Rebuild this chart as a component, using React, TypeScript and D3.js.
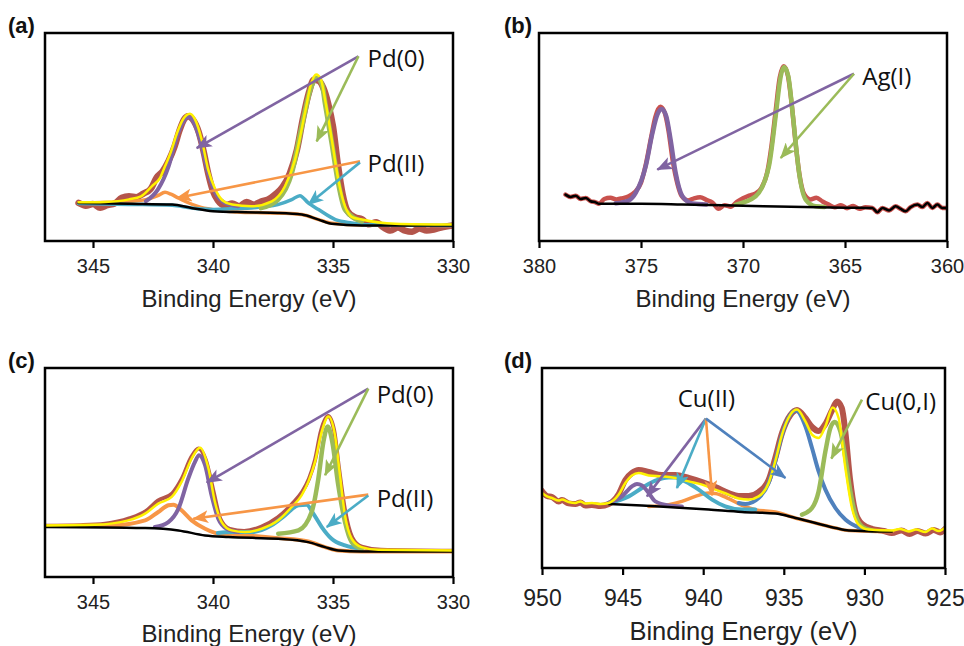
import { useEffect, useRef } from "react";
import * as d3 from "d3";

type Pt = [number, number]; // [binding energy eV, intensity (0-100 of box height)]

const FONT_AXIS = "'Liberation Sans', Arial, sans-serif";
const FONT_NOTE = "'Open Sans', Lato, sans-serif";

const COL = {
  data: "#b4554b",
  dataB: "#c9524e",
  fit: "#fff200",
  purple: "#8064a2",
  green: "#9bbb59",
  orange: "#f79646",
  aqua: "#4bacc6",
  blue: "#4f81bd",
  bg: "#000000",
};

// ==== (a) Pd 3d ====
const A_TICKS = [345, 340, 335, 330];
const A_DATA: Pt[] = [
  [345.6, 18.3], [345.3, 17.0], [345.0, 17.8], [344.7, 16.0], [344.4, 17.2], [344.1, 18.0],
  [343.8, 20.8], [343.5, 21.5], [343.2, 21.0], [342.9, 22.8], [342.6, 25.0], [342.35, 30.5],
  [342.1, 33.5], [341.85, 38.5], [341.6, 45.5], [341.4, 53.0], [341.2, 58.5], [341.05, 60.0],
  [340.85, 58.5], [340.6, 52.5], [340.4, 43.5], [340.2, 32.5], [340.0, 24.0], [339.8, 19.5],
  [339.5, 17.0], [339.2, 18.0], [338.9, 16.8], [338.6, 18.8], [338.3, 17.5], [338.0, 19.0],
  [337.7, 20.0], [337.4, 22.5], [337.1, 26.0], [336.8, 32.5], [336.5, 44.0], [336.25, 59.0],
  [336.0, 71.5], [335.8, 77.5], [335.6, 77.0], [335.4, 73.5], [335.2, 66.0], [335.0, 55.0],
  [334.8, 37.0], [334.6, 22.5], [334.4, 14.5], [334.1, 11.5], [333.8, 10.5], [333.5, 8.0],
  [333.2, 9.0], [332.9, 6.5], [332.6, 5.0], [332.3, 6.5], [332.0, 5.0], [331.7, 4.5],
  [331.4, 6.0], [331.1, 5.0], [330.8, 5.5], [330.5, 6.5], [330.0, 7.5],
];
const A_FIT: Pt[] = [
  [345.6, 18.6], [344.5, 18.8], [343.5, 20.0], [343.0, 21.5], [342.55, 26.3], [342.2, 30.5],
  [342.0, 35.9], [341.75, 43.0], [341.5, 51.9], [341.25, 58.5], [340.96, 61.2], [340.75, 58.5],
  [340.47, 48.7], [340.2, 34.3], [339.9, 24.7], [339.6, 19.5], [339.2, 17.5], [338.4, 16.7],
  [337.55, 19.1], [337.0, 26.3], [336.58, 39.1], [336.17, 61.5], [335.9, 76.0], [335.7, 80.0],
  [335.5, 77.5], [335.33, 67.9], [335.05, 48.7], [334.78, 29.5], [334.5, 16.7], [334.2, 11.5],
  [333.8, 10.3], [332.4, 8.3], [330.0, 7.9],
];
const A_PD0_32: Pt[] = [
  [342.8, 19.1], [342.3, 24.7], [341.85, 35.9], [341.5, 50.3], [341.25, 57.0], [341.03, 59.6],
  [340.8, 57.0], [340.54, 48.7], [340.2, 32.7], [339.9, 23.1], [339.5, 18.3], [338.95, 16.7],
];
const A_PD0_52: Pt[] = [
  [338.0, 15.9], [337.3, 19.9], [336.72, 32.7], [336.3, 55.1], [335.9, 74.4], [335.68, 78.4],
  [335.45, 75.0], [335.33, 66.3], [335.05, 47.1], [334.78, 27.9], [334.5, 15.1], [333.8, 9.5],
];
const A_PD2_32: Pt[] = [
  [345.6, 18.3], [343.5, 19.0], [342.8, 19.9], [342.3, 21.8], [342.0, 23.4], [341.75, 22.5],
  [341.5, 21.0], [341.17, 19.1], [340.6, 16.5], [340.05, 15.1], [339.0, 14.0], [338.0, 13.6],
  [337.0, 13.4], [336.3, 12.7], [335.6, 10.3], [335.05, 8.5], [333.8, 7.7], [330.0, 7.5],
];
const A_PD2_52: Pt[] = [
  [345.6, 18.0], [343.5, 17.6], [341.7, 17.2], [340.9, 15.9], [340.0, 15.2], [339.0, 15.6],
  [338.4, 15.9], [337.3, 17.5], [336.72, 19.9], [336.38, 21.8], [336.03, 18.3], [335.6, 15.1],
  [334.9, 10.3], [334.22, 8.7], [333.5, 7.8], [330.0, 7.5],
];
const A_BG: Pt[] = [
  [345.6, 18.3], [343.5, 17.9], [341.7, 17.5], [340.9, 15.9], [340.0, 14.3], [338.67, 13.8],
  [337.3, 13.5], [336.3, 12.7], [335.6, 10.3], [335.05, 8.3], [333.8, 7.5], [330.0, 7.5],
];

// ==== (b) Ag 3d ====
const B_TICKS = [380, 375, 370, 365, 360];
const B_NOISE_LEFT: Pt[] = [
  [378.7, 22.3], [378.45, 21.2], [378.2, 21.8], [377.96, 20.2], [377.71, 20.7], [377.47, 19.1],
  [377.22, 18.6], [377.06, 17.9],
];
const B_NOISE_RIGHT: Pt[] = [
  [363.66, 15.9], [363.41, 13.8], [363.17, 15.9], [362.84, 14.7], [362.52, 16.7], [362.27, 15.4],
  [362.03, 14.3], [361.78, 16.3], [361.45, 17.5], [361.21, 16.3], [360.96, 18.3], [360.72, 15.9],
  [360.47, 17.5], [360.23, 15.9], [360.0, 15.9],
];
const B_DATA_MID: Pt[] = [
  [376.8, 20.2], [376.5, 20.8], [376.2, 20.0], [375.9, 20.6], [375.6, 21.5], [375.3, 23.5],
  [375.0, 28.0], [374.77, 36.5], [374.5, 50.0], [374.3, 59.5], [374.05, 64.5], [373.85, 62.0],
  [373.65, 53.0], [373.45, 39.0], [373.2, 27.0], [373.0, 21.5], [372.7, 19.5], [372.4, 20.5],
  [372.1, 21.0], [371.8, 19.8], [371.5, 18.5], [371.2, 15.5], [370.9, 17.2], [370.6, 16.5],
  [370.3, 18.8], [370.0, 20.5], [369.7, 21.8], [369.4, 22.8], [369.1, 25.5], [368.8, 33.5],
  [368.6, 46.0], [368.4, 62.5], [368.2, 78.5], [368.0, 84.0], [367.8, 79.5], [367.6, 64.5],
  [367.4, 45.0], [367.2, 30.0], [367.0, 22.5], [366.7, 20.0], [366.4, 20.8], [366.1, 19.0],
  [365.8, 17.5], [365.5, 16.2], [365.2, 17.2], [364.9, 15.8], [364.6, 16.8], [364.3, 15.5],
  [364.0, 16.2],
];
const B_BG_MID: Pt[] = [
  [375.0, 17.9], [373.0, 17.6], [371.0, 17.2], [369.0, 16.7], [367.0, 16.3], [365.0, 16.0],
];
const B_AG_32: Pt[] = [
  [376.24, 18.1], [375.6, 19.5], [375.26, 23.1], [374.77, 35.9], [374.44, 51.9], [374.2, 60.7],
  [373.99, 63.5], [373.76, 59.9], [373.55, 48.7], [373.3, 32.7], [372.97, 21.5], [372.48, 18.0],
  [371.8, 17.6],
];
const B_AG_52: Pt[] = [
  [370.36, 17.5], [369.38, 21.5], [368.73, 35.9], [368.4, 59.9], [368.15, 79.2], [367.99, 83.7],
  [367.78, 79.2], [367.55, 59.9], [367.25, 32.7], [366.93, 19.9], [366.44, 16.7], [366.0, 16.4],
];

// ==== (c) Pd 3d ====
const C_TICKS = [345, 340, 335, 330];
const C_DATA: Pt[] = [
  [347.0, 24.5], [345.5, 24.8], [344.5, 25.5], [343.5, 28.0], [342.8, 31.5], [342.3, 36.5],
  [341.7, 40.0], [341.3, 47.0], [340.9, 57.5], [340.6, 61.5], [340.3, 56.0], [340.0, 42.0],
  [339.7, 28.0], [339.3, 23.0], [338.7, 22.0], [338.0, 24.0], [337.3, 28.5], [336.7, 35.0],
  [336.3, 40.5], [336.0, 47.0], [335.75, 56.0], [335.5, 70.0], [335.2, 77.0], [334.95, 70.0],
  [334.75, 52.0], [334.5, 32.0], [334.2, 19.0], [333.8, 14.5], [333.0, 13.0], [330.0, 12.5],
];
const C_FIT: Pt[] = [
  [347.0, 24.7], [344.92, 25.0], [343.53, 27.1], [342.83, 30.3], [342.28, 35.1], [341.72, 38.3],
  [341.31, 45.5], [340.89, 56.7], [340.54, 61.9], [340.19, 51.9], [339.92, 35.9], [339.64, 26.3],
  [339.22, 22.3], [338.67, 21.5], [337.97, 23.1], [337.28, 27.1], [336.72, 33.5], [336.31, 39.1],
  [336.03, 45.5], [335.75, 55.1], [335.47, 69.6], [335.19, 76.8], [334.92, 67.9], [334.71, 48.7],
  [334.5, 29.5], [334.22, 18.3], [333.81, 14.3], [333.11, 13.0], [330.0, 12.7],
];
const C_PD0_32: Pt[] = [
  [342.42, 23.9], [341.86, 26.3], [341.44, 32.7], [341.03, 47.1], [340.75, 55.1], [340.58, 58.3],
  [340.33, 53.5], [340.06, 39.1], [339.78, 27.9], [339.43, 23.1], [338.94, 21.5],
];
const C_PD0_52: Pt[] = [
  [337.28, 20.7], [336.44, 22.3], [335.89, 31.1], [335.61, 47.1], [335.4, 64.7], [335.22, 72.0],
  [335.03, 64.7], [334.78, 43.9], [334.5, 26.3], [334.22, 16.7], [333.81, 13.5],
];
const C_PD2_32: Pt[] = [
  [347.0, 24.4], [344.22, 24.7], [342.83, 27.1], [342.28, 31.1], [341.86, 34.3], [341.65, 34.6],
  [341.31, 31.9], [340.89, 27.1], [340.33, 23.1], [339.64, 20.4], [338.67, 19.9], [337.28, 18.6],
  [336.03, 17.0], [335.33, 14.3], [334.78, 12.7], [333.8, 12.2], [330.0, 12.2],
];
const C_PD2_52: Pt[] = [
  [339.8, 21.0], [339.22, 21.5], [338.39, 21.5], [337.56, 24.7], [337.0, 29.5], [336.44, 34.3],
  [336.1, 34.6], [335.82, 30.3], [335.47, 23.9], [335.06, 18.3], [334.5, 15.1], [333.81, 13.5],
];
const C_BG: Pt[] = [
  [347.0, 23.9], [342.83, 23.4], [341.44, 22.3], [340.33, 19.9], [339.36, 19.1], [337.28, 18.3],
  [336.03, 16.7], [335.33, 14.3], [334.78, 12.7], [333.81, 12.2], [330.0, 12.2],
];

// ==== (d) Cu 2p3/2 ====
const D_TICKS = [950, 945, 940, 935, 930, 925];
const D_DATA: Pt[] = [
  [950.0, 38.5], [949.69, 36.0], [949.38, 35.5], [948.97, 33.2], [948.76, 34.0], [948.35, 32.3],
  [947.93, 32.0], [947.62, 32.8], [947.31, 31.2], [946.9, 31.5], [946.38, 31.0], [945.86, 32.0],
  [945.24, 37.0], [944.83, 44.0], [944.42, 47.5], [944.0, 49.0], [943.38, 48.0], [942.56, 46.5],
  [941.73, 46.5], [940.9, 45.0], [940.07, 43.0], [939.25, 40.5], [938.42, 37.5], [937.8, 36.0],
  [937.18, 36.0], [936.56, 38.0], [935.94, 44.0], [935.53, 55.0], [935.11, 67.5], [934.59, 76.5],
  [934.18, 79.0], [933.66, 75.0], [933.25, 70.5], [932.84, 68.5], [932.42, 72.0], [932.0, 79.0],
  [931.7, 83.3], [931.4, 80.0], [931.18, 68.0], [930.9, 45.0], [930.56, 28.0], [930.15, 22.0],
  [929.5, 19.5], [928.8, 18.5], [928.3, 17.5], [927.7, 18.8], [927.2, 17.0], [926.7, 18.5],
  [926.2, 17.2], [925.7, 19.0], [925.3, 17.8], [925.0, 19.5],
];
const D_FIT: Pt[] = [
  [950.0, 37.5], [949.69, 35.8], [949.38, 35.0], [948.97, 33.7], [948.76, 34.2], [948.35, 33.0],
  [947.93, 32.5], [947.62, 33.3], [947.31, 32.2], [946.9, 32.5], [946.38, 32.0], [945.86, 32.5],
  [945.24, 36.7], [944.83, 42.5], [944.42, 46.3], [944.0, 47.5], [943.38, 46.3], [942.56, 45.8],
  [941.73, 45.0], [940.9, 43.3], [940.07, 41.7], [939.25, 39.2], [938.42, 36.7], [937.8, 34.7],
  [937.18, 34.2], [936.56, 35.8], [935.94, 42.5], [935.53, 53.3], [935.11, 66.7], [934.59, 76.7],
  [934.18, 79.2], [933.66, 73.3], [933.25, 66.7], [932.84, 65.0], [932.42, 70.8], [931.97, 80.3],
  [931.6, 75.0], [931.18, 50.0], [930.77, 30.0], [930.36, 21.7], [929.74, 19.2], [928.29, 18.7],
  [927.8, 19.5], [927.25, 18.3], [926.8, 19.2], [926.22, 18.0], [925.8, 19.7], [925.4, 18.5],
  [925.0, 20.0],
];
const D_CU2_MAIN: Pt[] = [
  [937.8, 32.5], [937.39, 32.0], [936.56, 35.0], [935.94, 42.5], [935.53, 53.3], [935.11, 66.7],
  [934.59, 76.7], [934.24, 78.7], [933.66, 70.8], [933.25, 60.0], [932.84, 48.3], [932.42, 39.2],
  [931.8, 30.0], [931.18, 24.2], [930.36, 20.3], [929.53, 18.8],
];
const D_CU01: Pt[] = [
  [933.87, 26.7], [933.25, 30.0], [932.84, 38.3], [932.42, 58.3], [932.11, 70.0], [931.84, 73.0],
  [931.49, 68.3], [931.18, 55.0], [930.87, 38.3], [930.56, 26.7], [930.15, 20.8], [929.53, 18.8],
];
const D_SAT1: Pt[] = [
  [945.86, 32.5], [945.04, 35.8], [944.42, 40.8], [944.11, 42.0], [943.8, 41.3], [943.38, 37.5],
  [942.97, 33.3], [942.14, 31.3], [941.32, 30.8],
];
const D_SAT2: Pt[] = [
  [945.86, 32.5], [944.62, 35.8], [943.8, 40.0], [942.97, 43.7], [942.14, 45.3], [941.73, 45.3],
  [941.11, 43.3], [940.28, 39.2], [939.45, 34.2], [938.63, 30.8], [937.59, 29.2], [936.77, 29.2],
];
const D_SAT3: Pt[] = [
  [943.38, 30.8], [942.14, 31.7], [941.32, 33.3], [940.49, 35.8], [939.66, 37.5], [939.25, 37.3],
  [938.42, 34.7], [937.59, 31.3], [936.77, 29.2], [935.53, 28.0], [934.28, 25.0], [933.04, 22.5],
  [931.8, 20.0], [930.97, 18.7], [929.32, 18.3], [928.29, 18.3],
];
const D_BG: Pt[] = [
  [945.86, 32.0], [943.8, 31.3], [941.73, 30.3], [939.66, 29.2], [937.59, 28.0], [935.53, 27.2],
  [934.28, 25.0], [933.04, 22.5], [931.8, 20.0], [930.97, 18.7], [929.32, 18.3], [928.29, 18.3],
];

type Series = { pts: Pt[]; color: string; width: number };
type Arrow = { from: Pt; to: Pt; color: string };
type Note = { at: Pt; text: string; anchor: "start" | "middle" };
type PanelCfg = {
  id: string;
  box: { x0: number; x1: number; y0: number; y1: number };
  domain: [number, number];
  ticks: number[];
  tickFont: number;
  tickPad: number;
  titleFont: number;
  titleOffset: number;
  label: { x: number; y: number };
  series: Series[];
  arrows: Arrow[];
  notes: Note[];
};

const PANELS: PanelCfg[] = [
  {
    id: "a",
    box: { x0: 45, x1: 453, y0: 33, y1: 241 },
    domain: [347, 330],
    ticks: A_TICKS,
    tickFont: 20,
    tickPad: 11,
    titleFont: 24,
    titleOffset: 66,
    label: { x: 8, y: 33 },
    series: [
      { pts: A_DATA, color: COL.data, width: 6.5 },
      { pts: A_PD2_32, color: COL.orange, width: 3.5 },
      { pts: A_PD2_52, color: COL.aqua, width: 3.5 },
      { pts: A_PD0_32, color: COL.purple, width: 4 },
      { pts: A_PD0_52, color: COL.green, width: 5 },
      { pts: A_BG, color: COL.bg, width: 2.5 },
      { pts: A_FIT, color: COL.fit, width: 2.5 },
    ],
    arrows: [
      { from: [333.94, 88.8], to: [340.68, 44.7], color: COL.purple },
      { from: [333.94, 88.8], to: [335.68, 47.9], color: COL.green },
      { from: [333.875, 38.3], to: [341.51, 20.7], color: COL.orange },
      { from: [333.875, 37.8], to: [336.03, 17.5], color: COL.aqua },
    ],
    notes: [
      { at: [333.56, 88.0], text: "Pd(0)", anchor: "start" },
      { at: [333.56, 37.5], text: "Pd(II)", anchor: "start" },
    ],
  },
  {
    id: "b",
    box: { x0: 539, x1: 947, y0: 33, y1: 241 },
    domain: [380, 360],
    ticks: B_TICKS,
    tickFont: 20,
    tickPad: 11,
    titleFont: 24,
    titleOffset: 66,
    label: { x: 504, y: 33 },
    series: [
      { pts: [...B_NOISE_LEFT, ...B_DATA_MID, ...B_NOISE_RIGHT], color: COL.dataB, width: 4.5 },
      { pts: B_AG_32, color: COL.purple, width: 4.5 },
      { pts: B_AG_52, color: COL.green, width: 4.5 },
      { pts: [...B_NOISE_LEFT, ...B_BG_MID, ...B_NOISE_RIGHT], color: COL.bg, width: 2.5 },
    ],
    arrows: [
      { from: [364.56, 80.4], to: [374.2, 34.3], color: COL.purple },
      { from: [364.56, 80.4], to: [368.15, 39.9], color: COL.green },
    ],
    notes: [{ at: [364.15, 79.2], text: "Ag(I)", anchor: "start" }],
  },
  {
    id: "c",
    box: { x0: 45, x1: 453, y0: 368, y1: 577 },
    domain: [347, 330],
    ticks: C_TICKS,
    tickFont: 20,
    tickPad: 11,
    titleFont: 24,
    titleOffset: 65,
    label: { x: 8, y: 368 },
    series: [
      { pts: C_DATA, color: COL.data, width: 4 },
      { pts: C_PD2_32, color: COL.orange, width: 4 },
      { pts: C_PD2_52, color: COL.aqua, width: 4 },
      { pts: C_PD0_32, color: COL.purple, width: 4 },
      { pts: C_PD0_52, color: COL.green, width: 4.5 },
      { pts: C_BG, color: COL.bg, width: 2.5 },
      { pts: C_FIT, color: COL.fit, width: 2.5 },
    ],
    arrows: [
      { from: [333.53, 90.1], to: [340.26, 45.2], color: COL.purple },
      { from: [333.53, 90.1], to: [335.33, 48.7], color: COL.green },
      { from: [333.53, 39.4], to: [340.82, 27.9], color: COL.orange },
      { from: [333.53, 39.0], to: [335.26, 23.9], color: COL.aqua },
    ],
    notes: [
      { at: [333.18, 87.2], text: "Pd(0)", anchor: "start" },
      { at: [333.18, 37.5], text: "Pd(II)", anchor: "start" },
    ],
  },
  {
    id: "d",
    box: { x0: 542, x1: 945, y0: 368, y1: 568 },
    domain: [950, 925],
    ticks: D_TICKS,
    tickFont: 23,
    tickPad: 15,
    titleFont: 25.5,
    titleOffset: 72,
    label: { x: 504, y: 368 },
    series: [
      { pts: D_DATA, color: COL.data, width: 6 },
      { pts: D_SAT3, color: COL.orange, width: 3.5 },
      { pts: D_SAT2, color: COL.aqua, width: 4 },
      { pts: D_SAT1, color: COL.purple, width: 4 },
      { pts: D_CU2_MAIN, color: COL.blue, width: 4 },
      { pts: D_CU01, color: COL.green, width: 4.5 },
      { pts: D_BG, color: COL.bg, width: 2.5 },
      { pts: D_FIT, color: COL.fit, width: 2.5 },
    ],
    arrows: [
      { from: [939.83, 74.7], to: [943.49, 35.8], color: COL.purple },
      { from: [939.83, 74.7], to: [941.63, 40.0], color: COL.aqua },
      { from: [939.83, 74.7], to: [939.45, 36.3], color: COL.orange },
      { from: [939.83, 74.7], to: [934.9, 45.0], color: COL.blue },
      { from: [930.15, 84.2], to: [932.05, 54.7], color: COL.green },
    ],
    notes: [
      { at: [939.8, 85.0], text: "Cu(II)", anchor: "middle" },
      { at: [929.94, 83.3], text: "Cu(0,I)", anchor: "start" },
    ],
  },
];

function Panel({ p }: { p: PanelCfg }) {
  const axisRef = useRef<SVGGElement>(null);
  const { x0, x1, y0, y1 } = p.box;

  const x = d3.scaleLinear().domain(p.domain).range([x0, x1]);
  const y = d3.scaleLinear().domain([0, 100]).range([y1, y0]);
  const line = d3
    .line<Pt>()
    .x((d) => x(d[0]))
    .y((d) => y(d[1]))
    .curve(d3.curveMonotoneX);

  useEffect(() => {
    if (!axisRef.current) return;
    const axis = d3
      .axisBottom(x)
      .tickValues(p.ticks)
      .tickSize(7)
      .tickPadding(p.tickPad)
      .tickFormat(d3.format("d"));
    const g = d3.select(axisRef.current).call(axis);
    g.select(".domain").remove();
    g.selectAll(".tick line").attr("stroke", "#000").attr("stroke-width", 2.2);
    g.selectAll(".tick text")
      .attr("font-size", p.tickFont)
      .attr("font-family", FONT_AXIS)
      .attr("fill", "#222");
  }, []);

  return (
    <g>
      <defs>
        <clipPath id={`clip-${p.id}`}>
          <rect x={x0} y={y0} width={x1 - x0} height={y1 - y0} />
        </clipPath>
        {p.arrows.map((a, i) => (
          <marker
            key={i}
            id={`ah-${p.id}-${i}`}
            viewBox="0 0 16 13"
            refX={15}
            refY={6.5}
            markerWidth={16}
            markerHeight={13}
            markerUnits="userSpaceOnUse"
            orient="auto"
          >
            <path d="M0,0 L16,6.5 L0,13 L4,6.5 z" fill={a.color} />
          </marker>
        ))}
      </defs>

      <g clipPath={`url(#clip-${p.id})`}>
        {p.series.map((s, i) => (
          <path
            key={i}
            d={line(s.pts) ?? ""}
            fill="none"
            stroke={s.color}
            strokeWidth={s.width}
            strokeLinejoin="round"
            strokeLinecap="round"
          />
        ))}
      </g>

      {p.arrows.map((a, i) => (
        <line
          key={i}
          x1={x(a.from[0])}
          y1={y(a.from[1])}
          x2={x(a.to[0])}
          y2={y(a.to[1])}
          stroke={a.color}
          strokeWidth={2.6}
          markerEnd={`url(#ah-${p.id}-${i})`}
        />
      ))}

      {p.notes.map((n, i) => (
        <text
          key={i}
          x={x(n.at[0])}
          y={y(n.at[1])}
          dy="0.36em"
          textAnchor={n.anchor}
          fontFamily={FONT_NOTE}
          fontSize={24}
          fill="#111"
        >
          {n.text}
        </text>
      ))}

      <rect x={x0} y={y0} width={x1 - x0} height={y1 - y0} fill="none" stroke="#000" strokeWidth={2.5} />
      <g ref={axisRef} transform={`translate(0,${y1})`} />

      <text
        x={(x0 + x1) / 2}
        y={y1 + p.titleOffset}
        textAnchor="middle"
        fontFamily={FONT_AXIS}
        fontSize={p.titleFont}
        fill="#222"
      >
        Binding Energy (eV)
      </text>
      <text
        x={p.label.x}
        y={p.label.y}
        fontFamily={FONT_AXIS}
        fontWeight="bold"
        fontSize={22}
        fill="#111"
      >
        ({p.id})
      </text>
    </g>
  );
}

export default function App() {
  return (
    <div style={{ position: "absolute", left: 0, top: 0 }}>
      <svg width={964} height={646} style={{ display: "block", background: "#fff" }}>
        {PANELS.map((p) => (
          <Panel key={p.id} p={p} />
        ))}
      </svg>
    </div>
  );
}
